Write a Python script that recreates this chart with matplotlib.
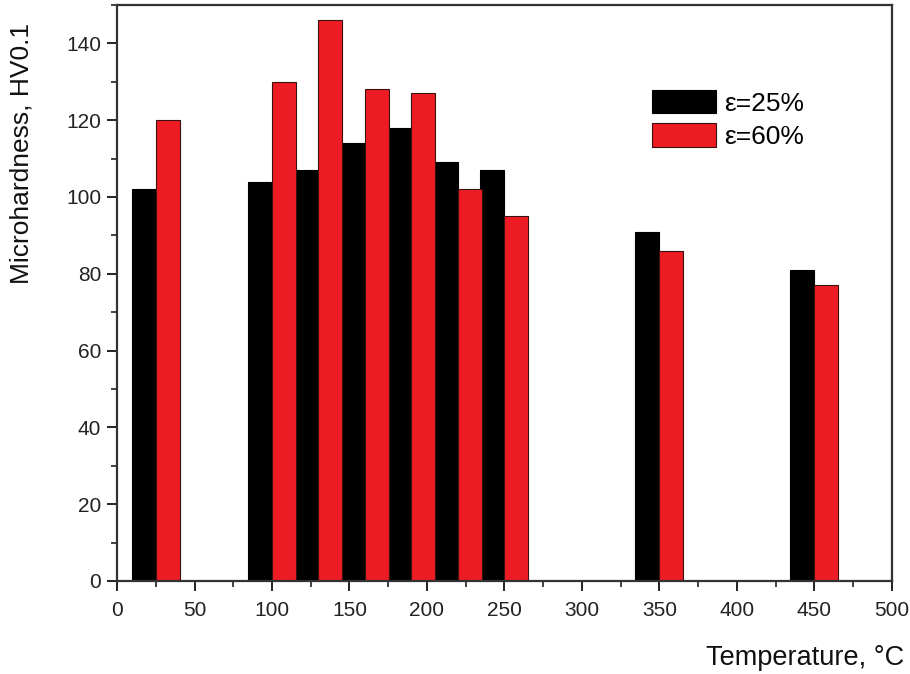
import numpy as np
import matplotlib.pyplot as plt
from matplotlib.ticker import MultipleLocator

plt.rcParams['font.family'] = ['Liberation Sans', 'DejaVu Sans']

# Data
temperature = [25, 100, 130, 160, 190, 220, 250, 350, 450]
hv_25 = [102, 104, 107, 114, 118, 109, 107, 91, 81]
hv_60 = [120, 130, 146, 128, 127, 102, 95, 86, 77]
labels = ['ε=25%', 'ε=60%']


def main():
    t = np.array(temperature)
    w = 15.5

    fig = plt.figure(figsize=(9.1, 6.74), dpi=100)
    ax = fig.add_axes([0.1286, 0.138, 0.8514, 0.8546])

    ax.bar(t - w / 2, hv_25, width=w, color='black', edgecolor='black',
           linewidth=0.8, label=labels[0])
    ax.bar(t + w / 2, hv_60, width=w, color='#ed1c24', edgecolor='#3a1010',
           linewidth=0.8, label=labels[1])

    ax.set_xlim(0, 500)
    ax.set_ylim(0, 150)
    ax.xaxis.set_major_locator(MultipleLocator(50))
    ax.xaxis.set_minor_locator(MultipleLocator(25))
    ax.yaxis.set_major_locator(MultipleLocator(20))
    ax.yaxis.set_minor_locator(MultipleLocator(10))
    ax.tick_params(which='major', direction='out', length=7.5, width=1.4,
                   labelsize=15, colors='#222222', pad=4)
    ax.tick_params(which='minor', direction='out', length=4.5, width=1.2,
                   colors='#222222')
    ax.tick_params(axis='x', pad=7)
    for s in ax.spines.values():
        s.set_linewidth(1.6)
        s.set_color('#333333')

    fig.text(22 / 910, 1 - 154 / 674, 'Microhardness, HV0.1', fontsize=19,
             rotation=90, ha='center', va='center', color='#111111')
    fig.text(904 / 910, 9 / 674, 'Temperature, °C', fontsize=19.5,
             ha='right', va='baseline', color='#111111')

    ax.legend(loc='upper left', bbox_to_anchor=(0.691, 0.853), frameon=False,
              fontsize=19, handlelength=2.4, handleheight=1.0,
              handletextpad=0.3, labelspacing=0.3, borderaxespad=0,
              borderpad=0)

    fig.savefig('out.png', dpi=100)
    plt.close(fig)


if __name__ == '__main__':
    main()
